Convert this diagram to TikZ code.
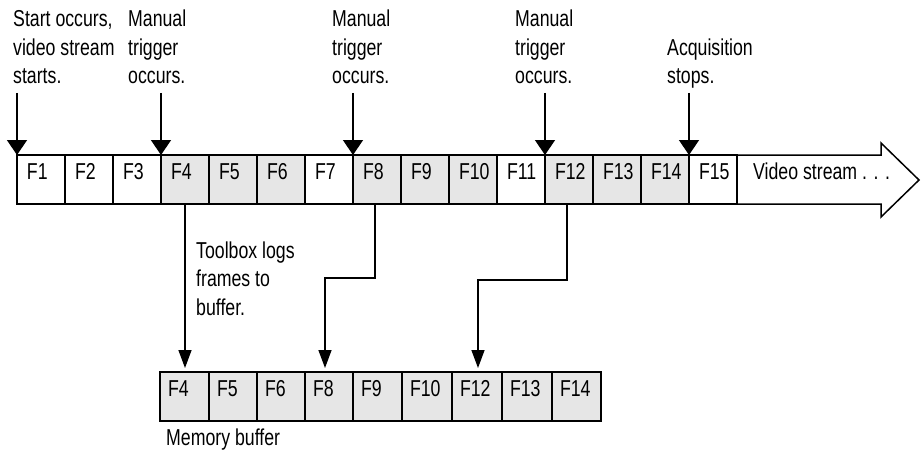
\documentclass[tikz,border=0pt]{standalone}
\usepackage{fontspec}
\setmainfont{Liberation Sans}[FakeStretch=0.77]
\usetikzlibrary{arrows.meta,calc}
\definecolor{shade}{HTML}{E6E6E6}
\begin{document}
\begin{tikzpicture}[x=1pt,y=-1pt,
  every node/.style={font=\fontsize{23}{28.5}\selectfont},
  cellbox/.style={draw, line width=1.5pt, minimum height=49pt, inner ysep=0pt, outer sep=0pt,
    text height=12pt, text depth=12pt, align=left, anchor=north west},
  topcell/.style={cellbox, inner xsep=10pt, text width=28pt},
  botcell/.style={cellbox, inner xsep=8pt, fill=shade},
  lbl/.style={inner sep=0pt, anchor=base west, align=left},
  trig/.style={line width=1.5pt, -{Triangle[width=20pt,length=15pt]}},
  conn/.style={line width=1.5pt, -{Triangle[width=13pt,length=18pt]}, shorten >=4pt}
]
\useasboundingbox (0,0) rectangle (922,452);

% stream arrow
\draw[line width=1.5pt, line join=miter, fill=white]
  (17,155) -- (881,155) -- (881,143) -- (919,180) -- (881,217) -- (881,204) -- (17,204) -- cycle;

% top row cells
\foreach \i/\f in {1/white,2/white,3/white,4/shade,5/shade,6/shade,7/white,8/shade,
                   9/shade,10/shade,11/white,12/shade,13/shade,14/shade,15/white}{
  \node[topcell, fill=\f] (t\i) at ({17+48*(\i-1)},155) {F\i};
}
\node[lbl] (vs) at (753,179) {Video stream . . .};

% bottom row cells
\foreach \n/\l/\r in {4/160/209,5/209/257,6/257/305,8/305/353,9/353/402,
                      10/402/452,12/452/502,13/502/552,14/552/601}{
  \pgfmathsetmacro\w{\r-\l-16}
  \node[botcell, text width=\w pt] (b\n) at (\l,372) {F\n};
}
\node[lbl] (mb) at (166,445) {Memory buffer};

% labels (anchored at the baseline of their last line)
\node[lbl] (l1) at (13,84) {Start occurs,\\video stream\\starts.};
\node[lbl] (l2) at (128,84) {Manual\\trigger\\occurs.};
\node[lbl] (l3) at (332,84) {Manual\\trigger\\occurs.};
\node[lbl] (l4) at (515,84) {Manual\\trigger\\occurs.};
\node[lbl] (l5) at (667,84) {Acquisition\\stops.};
\node[lbl] (l6) at (196,315) {Toolbox logs\\frames to\\buffer.};

% trigger arrows
\foreach \i in {1,4,8,12,15}{
  \coordinate (s\i) at ($(t\i.north west)+(0,-62)$);
  \draw[trig] (s\i) -- (t\i.north west);
}

% connectors to buffer
\draw[conn] (t4.south) -- (t4.south |- b4.north);
\coordinate (b8in) at ($(b8.north west)+(20,0)$);
\draw[conn] ($(t8.south)+(-2,0)$) -- ++(0,74) -| (b8in);
\coordinate (b12in) at ($(b12.north west)+(26,0)$);
\draw[conn] ($(t12.south)+(-2,0)$) -- ++(0,76) -| (b12in);
\end{tikzpicture}
\end{document}
